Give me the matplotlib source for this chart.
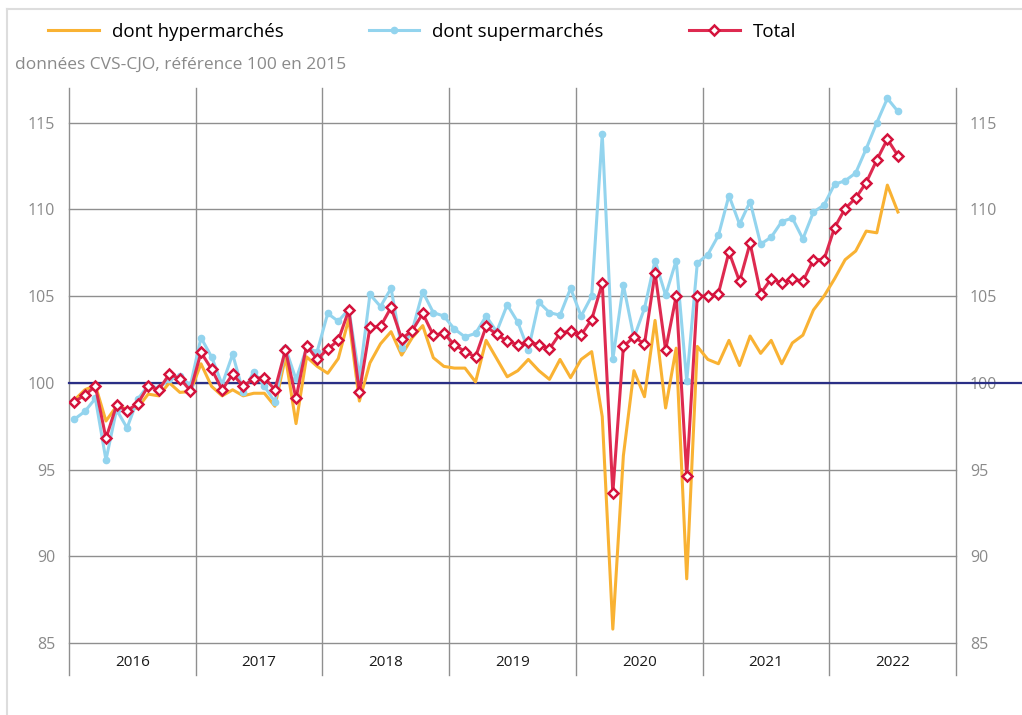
import numpy as np
import matplotlib.pyplot as plt
from matplotlib.lines import Line2D

plt.rcParams['font.family'] = ['Open Sans', 'DejaVu Sans']

years = ['2016', '2017', '2018', '2019', '2020', '2021', '2022']

# indices mensuels, janvier 2016 -> juillet 2022
hyper = [99.0, 99.6, 99.85, 97.8, 98.65, 98.5, 98.55, 99.35, 99.25, 100.0, 99.45, 99.5,
         101.1, 99.8, 99.25, 99.6, 99.25, 99.4, 99.4, 98.65, 101.5, 97.65, 101.5, 100.95,
         100.55, 101.4, 103.7, 98.95, 101.15, 102.25, 102.95, 101.6, 102.6, 103.3, 101.45, 100.95,
         100.85, 100.85, 100.05, 102.45, 101.4, 100.35, 100.7, 101.35, 100.7, 100.2, 101.35, 100.3,
         101.35, 101.8, 98.05, 85.8, 95.8, 100.7, 99.2, 103.6, 98.55, 102.0, 88.7, 102.1,
         101.35, 101.1, 102.45, 101.0, 102.7, 101.7, 102.45, 101.1, 102.3, 102.75, 104.2, 105.0,
         106.0, 107.1, 107.6, 108.75, 108.65, 111.4, 109.85]

super_ = [97.9, 98.35, 99.1, 95.55, 98.45, 97.4, 99.05, 99.85, 99.7, 100.2, 100.4, 99.85,
          102.6, 101.5, 99.9, 101.65, 99.45, 100.65, 99.8, 98.9, 102.0, 100.2, 102.0, 101.8,
          104.0, 103.55, 104.25, 100.3, 105.1, 104.4, 105.45, 102.0, 103.0, 105.25, 104.05, 103.85,
          103.1, 102.65, 102.85, 103.85, 102.95, 104.5, 103.5, 101.9, 104.65, 104.05, 103.9, 105.45,
          103.85, 105.0, 114.35, 101.35, 105.65, 102.6, 104.3, 107.05, 105.05, 107.05, 100.1, 106.9,
          107.4, 108.5, 110.8, 109.15, 110.45, 108.0, 108.4, 109.3, 109.5, 108.3, 109.85, 110.25,
          111.45, 111.65, 112.1, 113.5, 115.0, 116.4, 115.65]

total = [98.9, 99.3, 99.8, 96.8, 98.7, 98.4, 98.8, 99.8, 99.6, 100.5, 100.25, 99.55,
         101.75, 100.8, 99.6, 100.5, 99.8, 100.25, 100.3, 99.6, 101.9, 99.1, 102.15, 101.35,
         101.95, 102.45, 104.2, 99.45, 103.2, 103.25, 104.35, 102.55, 103.0, 104.0, 102.75, 102.85,
         102.2, 101.8, 101.5, 103.25, 102.8, 102.4, 102.2, 102.35, 102.2, 101.95, 102.85, 103.0,
         102.75, 103.65, 105.75, 93.65, 102.1, 102.65, 102.25, 106.35, 101.9, 105.0, 94.65, 105.0,
         105.0, 105.15, 107.55, 105.85, 108.05, 105.15, 106.0, 105.75, 106.0, 105.85, 107.1, 107.1,
         108.95, 110.05, 110.65, 111.55, 112.85, 114.05, 113.1]

yticks = [85, 90, 95, 100, 105, 110, 115]

ORANGE = '#F9B233'
BLUE = '#93D4EE'
RED = '#DE2A50'
RED_EDGE = '#D4123C'
NAVY = '#2A2F86'
GRID = '#8F8F8F'
TXT = '#8A8A8A'

x = np.arange(len(total)) + 0.5

fig = plt.figure(figsize=(10.22, 7.15), dpi=100)
ax = fig.add_axes([69 / 1022, 1 - 643 / 715, (956 - 69) / 1022, (643 - 88) / 715])

ax.set_xlim(0, 12 * len(years))
ax.set_ylim(85, 117)

# grille horizontale
for v in yticks:
    ax.axhline(v, color=GRID, lw=1.0, zorder=1, clip_on=False)

# séparateurs d'années (débordent sous l'axe)
for k in range(len(years) + 1):
    ax.plot([12 * k, 12 * k], [-0.058, 1], color=GRID, lw=1.0,
            transform=ax.get_xaxis_transform(), clip_on=False, zorder=1)

# ligne de référence 100, prolongée jusqu'au bord
ax.plot([0, 1022 / 887 - 69 / 887], [100, 100], color=NAVY, lw=1.6,
        transform=ax.get_yaxis_transform(), clip_on=False, zorder=2)

l1, = ax.plot(x, hyper, color=ORANGE, lw=2.2, zorder=3, label='dont hypermarchés')
l2, = ax.plot(x, super_, color=BLUE, lw=2.2, marker='o', ms=4.5, zorder=4,
              label='dont supermarchés')
l3, = ax.plot(x, total, color=RED, lw=2.2, marker='D', ms=5.5, mfc='white',
              mec=RED_EDGE, mew=1.8, zorder=5, label='Total')

for s in ax.spines.values():
    s.set_visible(False)

ax.set_xticks([])
ax.set_yticks(yticks)
ax.tick_params(axis='y', length=0, labelsize=11.5, labelcolor=TXT, pad=10,
               labelleft=True, labelright=True)

for k, yr in enumerate(years):
    ax.text(12 * k + 6, -0.036, yr, transform=ax.get_xaxis_transform(),
            ha='center', va='center', fontsize=11, color='#1a1a1a')

fig.legend(handles=[l1, l2, l3], loc='center left', bbox_to_anchor=(31 / 1022, 1 - 32 / 715),
           ncol=3, frameon=False, fontsize=13.5, numpoints=1, handlelength=2.7,
           handletextpad=0.7, columnspacing=4.55)

fig.text(15 / 1022, 1 - 65 / 715, 'données CVS-CJO, référence 100 en 2015',
         fontsize=12.5, color=TXT, va='center', ha='left')

# cadre gris clair
fig.add_artist(Line2D([7 / 1022, 7 / 1022], [0, 1 - 9 / 715], color='#DDDDDD', lw=1.5))
fig.add_artist(Line2D([7 / 1022, 1], [1 - 9 / 715, 1 - 9 / 715], color='#DDDDDD', lw=1.5))

fig.savefig('out.png', dpi=100)
